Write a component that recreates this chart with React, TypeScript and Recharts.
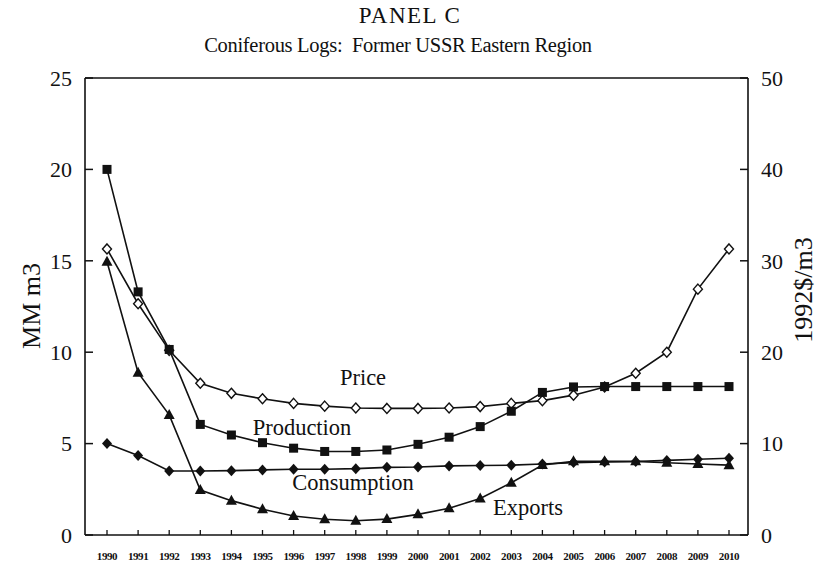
import { ComposedChart, Line, XAxis, YAxis, ReferenceLine } from "recharts";

const years = [
  "1990", "1991", "1992", "1993", "1994", "1995", "1996", "1997", "1998", "1999", "2000",
  "2001", "2002", "2003", "2004", "2005", "2006", "2007", "2008", "2009", "2010",
];
// MM m3 (left axis)
const production = [20.0, 13.3, 10.15, 6.05, 5.47, 5.05, 4.75, 4.57, 4.57, 4.65, 4.96, 5.35, 5.93, 6.77, 7.8, 8.1, 8.12, 8.12, 8.12, 8.12, 8.12];
const consumption = [5.0, 4.35, 3.5, 3.5, 3.52, 3.56, 3.6, 3.6, 3.63, 3.7, 3.72, 3.78, 3.8, 3.82, 3.88, 3.96, 4.0, 4.02, 4.08, 4.14, 4.2];
const exportsVol = [14.95, 8.88, 6.57, 2.46, 1.88, 1.41, 1.04, 0.86, 0.78, 0.87, 1.13, 1.46, 2.0, 2.86, 3.83, 4.03, 4.03, 4.03, 3.95, 3.88, 3.82];
// 1992$/m3 (right axis)
const price = [31.3, 25.3, 20.2, 16.6, 15.5, 14.9, 14.4, 14.1, 13.9, 13.85, 13.85, 13.9, 14.05, 14.4, 14.7, 15.3, 16.2, 17.7, 20.0, 26.9, 31.3];

const leftTicks = [0, 5, 10, 15, 20, 25];
const rightTicks = [0, 10, 20, 30, 40, 50];

const data = years.map((year, i) => ({
  year,
  production: production[i],
  consumption: consumption[i],
  exports: exportsVol[i],
  price: price[i],
}));

const SERIF = '"Liberation Serif", "Times New Roman", serif';
const INK = "#111";

const SquareDot = (p: any) =>
  p.cx == null ? null : (
    <rect key={`sq-${p.index}`} x={p.cx - 4.5} y={p.cy - 4.5} width={9} height={9} fill={INK} />
  );

const OpenDiamond = (p: any) =>
  p.cx == null ? null : (
    <path
      key={`od-${p.index}`}
      d={`M${p.cx},${p.cy - 5}L${p.cx + 4.5},${p.cy}L${p.cx},${p.cy + 5}L${p.cx - 4.5},${p.cy}Z`}
      fill="#fff"
      stroke={INK}
      strokeWidth={1.4}
    />
  );

const FilledDiamond = (p: any) =>
  p.cx == null ? null : (
    <path
      key={`fd-${p.index}`}
      d={`M${p.cx},${p.cy - 5.5}L${p.cx + 5},${p.cy}L${p.cx},${p.cy + 5.5}L${p.cx - 5},${p.cy}Z`}
      fill={INK}
    />
  );

const TriangleDot = (p: any) =>
  p.cx == null ? null : (
    <path
      key={`tr-${p.index}`}
      d={`M${p.cx},${p.cy - 6}L${p.cx + 5.5},${p.cy + 4}L${p.cx - 5.5},${p.cy + 4}Z`}
      fill={INK}
    />
  );

const LeftTick = ({ x, y, payload }: any) => (
  <g>
    <line x1={x} x2={x + 8} y1={y} y2={y} stroke={INK} strokeWidth={1.5} />
    <text x={x - 13} y={y} dy="0.35em" textAnchor="end" fontSize={22} fontFamily={SERIF} fill={INK}>
      {payload.value}
    </text>
  </g>
);

const RightTick = ({ x, y, payload }: any) => (
  <g>
    <line x1={x - 8} x2={x} y1={y} y2={y} stroke={INK} strokeWidth={1.5} />
    <text x={x + 13} y={y} dy="0.35em" textAnchor="start" fontSize={22} fontFamily={SERIF} fill={INK}>
      {payload.value}
    </text>
  </g>
);

const YearTick = ({ x, y, payload }: any) => (
  <g>
    <line x1={x} x2={x} y1={y - 5} y2={y} stroke={INK} strokeWidth={1.3} />
    <text x={x} y={y + 25} textAnchor="middle" fontSize={11} fontWeight="bold" fontFamily={SERIF} fill={INK} letterSpacing={-0.4}>
      {payload.value}
    </text>
  </g>
);

export default function App() {
  return (
    <div style={{ position: "absolute", left: 0, top: 0, width: 830, height: 567, background: "#fff" }}>
      <ComposedChart width={830} height={567} data={data} margin={{ top: 78, right: 0, bottom: 0, left: 0 }}>
        <XAxis
          dataKey="year"
          interval={0}
          height={32}
          padding={{ left: 22, right: 19 }}
          axisLine={{ stroke: INK, strokeWidth: 1.6 }}
          tickLine={false}
          tickSize={0}
          tickMargin={0}
          tick={<YearTick />}
        />
        <YAxis
          yAxisId="left"
          orientation="left"
          width={85}
          domain={[0, 25]}
          ticks={leftTicks}
          axisLine={{ stroke: INK, strokeWidth: 1.6 }}
          tickLine={false}
          tickSize={0}
          tickMargin={0}
          tick={<LeftTick />}
        />
        <YAxis
          yAxisId="right"
          orientation="right"
          width={82}
          domain={[0, 50]}
          ticks={rightTicks}
          axisLine={{ stroke: INK, strokeWidth: 1.6 }}
          tickLine={false}
          tickSize={0}
          tickMargin={0}
          tick={<RightTick />}
        />
        <ReferenceLine yAxisId="left" y={25} stroke={INK} strokeWidth={1.6} />
        <Line yAxisId="right" dataKey="price" type="linear" stroke={INK} strokeWidth={1.6} dot={OpenDiamond} isAnimationActive={false} />
        <Line yAxisId="left" dataKey="production" type="linear" stroke={INK} strokeWidth={1.6} dot={SquareDot} isAnimationActive={false} />
        <Line yAxisId="left" dataKey="consumption" type="linear" stroke={INK} strokeWidth={1.6} dot={FilledDiamond} isAnimationActive={false} />
        <Line yAxisId="left" dataKey="exports" type="linear" stroke={INK} strokeWidth={1.6} dot={TriangleDot} isAnimationActive={false} />
      </ComposedChart>
      <svg
        width={830}
        height={567}
        style={{ position: "absolute", left: 0, top: 0, pointerEvents: "none" }}
        fontFamily={SERIF}
        fill={INK}
      >
        <text x={410} y={23} textAnchor="middle" fontSize={23} letterSpacing={1.5}>PANEL C</text>
        <text x={398} y={52} textAnchor="middle" fontSize={20.5} letterSpacing={-0.3} xmlSpace="preserve">Coniferous Logs:  Former USSR Eastern Region</text>
        <text transform="translate(40,306) rotate(-90)" textAnchor="middle" fontSize={26}>MM m3</text>
        <text transform="translate(812,290) rotate(-90)" textAnchor="middle" fontSize={26}>1992$/m3</text>
        <text x={363} y={385} textAnchor="middle" fontSize={22.5}>Price</text>
        <text x={302} y={435} textAnchor="middle" fontSize={22.5}>Production</text>
        <text x={353} y={490} textAnchor="middle" fontSize={22.5}>Consumption</text>
        <text x={528} y={515} textAnchor="middle" fontSize={22.5}>Exports</text>
      </svg>
    </div>
  );
}
